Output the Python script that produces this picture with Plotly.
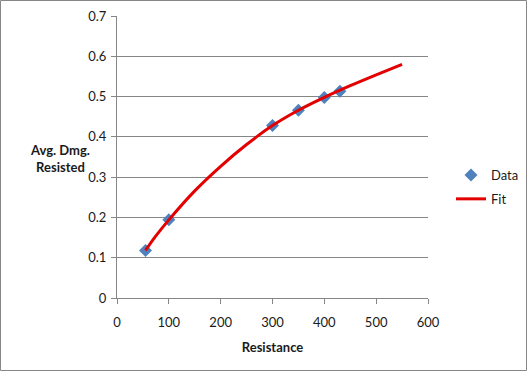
import plotly.graph_objects as go

data_x = [55, 100, 300, 350, 400, 430]
data_y = [0.118, 0.194, 0.428, 0.466, 0.498, 0.513]

fit_x = [55, 75, 100, 150, 200, 250, 300, 350, 400, 450, 500, 550]
fit_y = [0.118, 0.154, 0.194, 0.266, 0.327, 0.381, 0.428, 0.466, 0.498, 0.527, 0.554, 0.580]

x_ticks = [0, 100, 200, 300, 400, 500, 600]
y_ticks = [0, 0.1, 0.2, 0.3, 0.4, 0.5, 0.6, 0.7]

W, H = 528, 372
L, R, T, B = 117, 100, 16, 74
pw, ph = W - L - R, H - T - B

fig = go.Figure()
fig.add_trace(go.Scatter(x=data_x, y=data_y, mode="markers", name="Data", legendgroup="d",
                         marker=dict(symbol="diamond", size=10, color="#4F81BD",
                                     line=dict(width=0))))
fig.add_trace(go.Scatter(x=fit_x, y=fit_y, mode="lines", name="Fit", legendgroup="f",
                         line=dict(color="#E30000", width=3, shape="spline", smoothing=1.0)))

font = dict(family="Lato, Open Sans, sans-serif", size=13, color="#1a1a1a")

fig.update_layout(
    width=W, height=H,
    margin=dict(l=L, r=R, t=T, b=B, autoexpand=False),
    paper_bgcolor="white", plot_bgcolor="white",
    font=font,
    showlegend=True,
    legend=dict(x=(451 - L) / pw, y=(298 - 160) / ph, xanchor="left", yanchor="top",
                font=dict(size=13), bgcolor="rgba(0,0,0,0)", tracegroupgap=4),
    xaxis=dict(range=[0, 600], tickvals=x_ticks, ticks="outside", ticklen=5,
               tickcolor="#868686", showgrid=False, showline=True, linecolor="#868686",
               zeroline=False, fixedrange=True, automargin=False, ticklabelstandoff=7,
               title=dict(text="<b>Resistance</b>", font=dict(size=13), standoff=14)),
    yaxis=dict(range=[0, 0.7], tickvals=y_ticks, ticks="outside", ticklen=5,
               tickcolor="#868686", showgrid=True, gridcolor="#868686", gridwidth=1,
               showline=True, linecolor="#868686", zeroline=False, fixedrange=True,
               automargin=False, ticklabelstandoff=2),
    shapes=[dict(type="rect", xref="paper", yref="paper",
                 x0=-(L - 0.5) / pw, x1=1 + (R - 1.5) / pw,
                 y0=-(B - 1.5) / ph, y1=1 + (T - 0.5) / ph,
                 line=dict(color="#868686", width=1))],
    annotations=[dict(text="<b>Avg. Dmg.<br>Resisted</b>", xref="paper", yref="paper",
                      x=(60 - L) / pw, y=(298 - 158) / ph, showarrow=False,
                      xanchor="center", yanchor="middle", font=dict(size=13))],
)

fig.write_html("out.html", config={"displayModeBar": False, "staticPlot": True},
               post_script="document.body.style.margin='0';")
